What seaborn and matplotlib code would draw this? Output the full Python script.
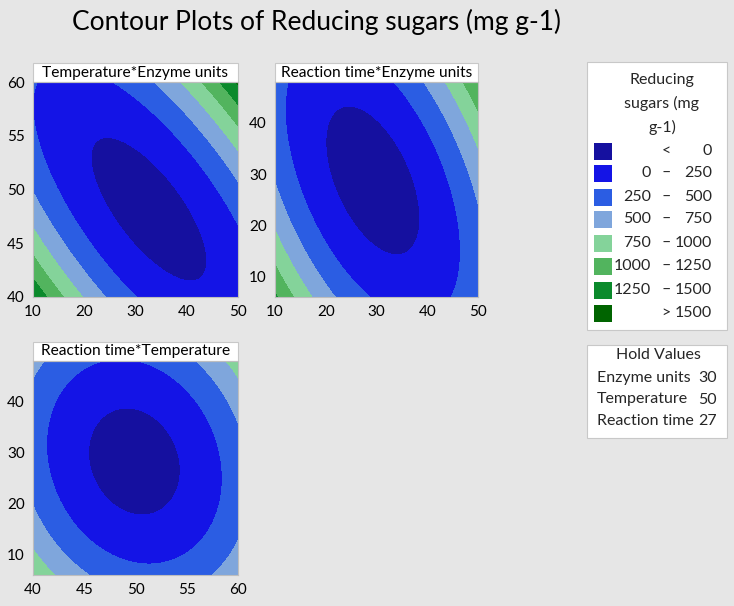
import numpy as np
import matplotlib
matplotlib.use("Agg")
import matplotlib.pyplot as plt
from matplotlib.patches import Rectangle
import seaborn as sns

# ---- chart data -------------------------------------------------------
TITLE = "Contour Plots of Reducing sugars (mg g-1)"

# response bands (legend)
LEVELS = [0, 250, 500, 750, 1000, 1250, 1500]
BAND_COLORS = ["#15109F", "#1414E6", "#2B5DE3", "#7FA6DC",
               "#84D39A", "#52B45E", "#0B8A2C", "#006400"]
BAND_LABELS = [("", "<", "0"), ("0", "\u2013", "250"), ("250", "\u2013", "500"),
               ("500", "\u2013", "750"), ("750", "\u2013", "1000"),
               ("1000", "\u2013", "1250"), ("1250", "\u2013", "1500"),
               ("", ">", "1500")]
LEGEND_TITLE = ["Reducing", "sugars (mg", "g-1)"]

# factors
ENZYME_RANGE = (10, 50)
TEMP_RANGE = (40, 60)
TIME_RANGE = (6, 48)
ENZYME_TICKS = [10, 20, 30, 40, 50]
TEMP_TICKS = [40, 45, 50, 55, 60]
TIME_TICKS = [10, 20, 30, 40]

HOLD_NAMES = ["Enzyme units", "Temperature", "Reaction time"]
HOLD_VALUES = [30, 50, 27]

# contour crossings: (x, y, level)
# panel 1: Temperature vs Enzyme units
p1_x = [20.1, 23.7, 41.0, 38.1, 23.1, 36.7, 31.5, 27.0, 40.2,
        29.5, 11.0, 11.5, 14.1, 19.2, 23.5, 29.0, 45.1, 50.0, 38.7,
        33.4, 50.0, 10.0, 23.5,
        38.1, 50.0, 10.0, 18.8,
        42.6, 50.0, 10.0, 14.9,
        45.5, 50.0, 10.0, 12.0,
        48.4, 50.0, 10.5]
p1_y = [53.5, 55.4, 45.8, 43.7, 50.1, 50.1, 53.2, 47.0, 47.0,
        60.0, 59.0, 55.0, 50.0, 46.9, 43.7, 40.0, 50.1, 46.0, 54.1,
        60.0, 51.1, 48.8, 40.0,
        60.0, 54.5, 46.2, 40.0,
        60.0, 56.9, 44.0, 40.0,
        60.0, 58.5, 42.6, 40.0,
        60.0, 59.4, 40.3]
p1_z = [0] * 9 + [250] * 10 + [500] * 4 + [750] * 4 + [1000] * 4 + [1250] * 4 + [1500] * 3

# panel 2: Reaction time vs Enzyme units
p2_x = [20.5, 24.8, 38.6, 34.6, 30.7, 35.3, 22.2, 28.7,
        14.5, 34.0, 12.0, 12.0, 14.9, 22.2, 28.7, 30.7, 45.1, 47.1, 45.8, 39.9,
        40.5, 50.0, 10.0, 20.2, 44.5,
        44.8, 50.0, 10.0, 16.2,
        47.4, 50.0, 10.0, 13.0,
        49.1, 50.0, 10.0, 10.7]
p2_y = [33.8, 39.3, 22.7, 16.9, 36.4, 29.2, 26.0, 18.8,
        48.0, 48.0, 39.0, 30.5, 21.4, 12.3, 7.1, 6.0, 6.0, 14.9, 26.0, 35.8,
        48.0, 22.8, 26.7, 6.0, 39.0,
        48.0, 35.8, 20.1, 6.0,
        48.0, 43.6, 14.2, 6.0,
        48.0, 46.8, 9.7, 6.0]
p2_z = [0] * 8 + [250] * 12 + [500] * 5 + [750] * 4 + [1000] * 4 + [1250] * 4

# panel 3: Reaction time vs Temperature
p3_x = [45.4, 48.9, 54.3, 50.9, 52.5, 46.3,
        48.3, 41.3, 51.2, 58.4, 43.7, 55.1, 57.1, 43.4,
        56.4, 60.0, 40.0, 45.4, 60.0, 57.7, 41.0, 40.0,
        58.7, 60.0, 40.0, 42.3]
p3_y = [30.2, 38.0, 26.9, 18.4, 36.1, 21.7,
        47.2, 30.9, 8.6, 26.3, 42.6, 43.9, 15.2, 16.5,
        48.0, 34.8, 19.7, 6.0, 12.5, 6.0, 48.0, 45.5,
        48.0, 44.3, 11.2, 6.0]
p3_z = [0] * 6 + [250] * 8 + [500] * 8 + [750] * 4

# ---- style ------------------------------------------------------------
BG = "#E6E6E6"
sns.set_theme(style="white", rc={"figure.facecolor": BG, "savefig.facecolor": BG,
                                  "axes.facecolor": BG})
plt.rcParams["font.family"] = ["Lato", "DejaVu Sans"]
W, H = 734, 606


def poly_terms(u, v):
    # full quadratic in coded units
    return np.stack([np.ones_like(u), u, v, u * u, v * v, u * v], axis=-1)


def fit_surface(u, v, z):
    coef, *_ = np.linalg.lstsq(poly_terms(u, v), z, rcond=None)
    return coef


def draw_panel(ax, xr, yr, px, py, pz, title, xticks, yticks):
    xc, xh = (xr[0] + xr[1]) / 2, (xr[1] - xr[0]) / 2
    yc, yh = (yr[0] + yr[1]) / 2, (yr[1] - yr[0]) / 2
    coef = fit_surface((np.array(px) - xc) / xh, (np.array(py) - yc) / yh,
                       np.array(pz, dtype=float))
    gx, gy = np.meshgrid(np.linspace(xr[0], xr[1], 300), np.linspace(yr[0], yr[1], 300))
    z = poly_terms((gx - xc) / xh, (gy - yc) / yh) @ coef
    ax.contourf(gx, gy, z, levels=[-1e7] + LEVELS + [1e7], colors=BAND_COLORS)
    ax.set_xlim(xr)
    ax.set_ylim(yr)
    ax.set_xticks(xticks)
    ax.set_yticks(yticks)
    ax.tick_params(axis="both", direction="out", length=4, width=0.8, color="#9A9A9A",
                   labelsize=11, pad=2, labelcolor="black")
    for sp in ax.spines.values():
        sp.set_color("#BEBEBE")
        sp.set_linewidth(0.8)
    ax.set_xlabel("")
    ax.set_ylabel("")
    # strip title
    bbox = ax.get_position()
    strip_h = 19 / (bbox.height * H)
    ax.add_patch(Rectangle((0, 1), 1, strip_h, transform=ax.transAxes, facecolor="white",
                           edgecolor="#C8C8C8", lw=0.8, clip_on=False))
    ax.text(0.5, 1 + strip_h / 2, title, transform=ax.transAxes, ha="center", va="center",
            fontsize=11.2, color="black")


fig = plt.figure(figsize=(W / 100, H / 100), dpi=100)


def px_axes(x0, y0, x1, y1):
    return fig.add_axes([x0 / W, 1 - y1 / H, (x1 - x0) / W, (y1 - y0) / H])


ax1 = px_axes(33, 82, 238, 297)
ax2 = px_axes(275, 82, 478, 297)
ax3 = px_axes(33, 361, 238, 575)

draw_panel(ax1, ENZYME_RANGE, TEMP_RANGE, p1_x, p1_y, p1_z,
           "Temperature*Enzyme units", ENZYME_TICKS, TEMP_TICKS)
draw_panel(ax2, ENZYME_RANGE, TIME_RANGE, p2_x, p2_y, p2_z,
           "Reaction time*Enzyme units", ENZYME_TICKS, TIME_TICKS)
draw_panel(ax3, TEMP_RANGE, TIME_RANGE, p3_x, p3_y, p3_z,
           "Reaction time*Temperature", TEMP_TICKS, TIME_TICKS)

# overlay in pixel coordinates for title, legend and hold values
ov = fig.add_axes([0, 0, 1, 1], zorder=10)
ov.set_xlim(0, W)
ov.set_ylim(H, 0)
ov.axis("off")
ov.patch.set_alpha(0)

ov.text(317, 22, TITLE, ha="center", va="center", fontsize=19, color="black")

ov.add_patch(Rectangle((587, 62), 140, 268, facecolor="white", edgecolor="#C8C8C8", lw=0.8))
for i, line in enumerate(LEGEND_TITLE):
    ov.text(662, 80 + i * 23.5, line, ha="center", va="center", fontsize=11.5)
row_y = [151, 173, 197, 219, 243, 266, 290, 313]
for y, col, (lo, sep, hi) in zip(row_y, BAND_COLORS, BAND_LABELS):
    ov.add_patch(Rectangle((594, y - 8.5), 18, 17, facecolor=col, edgecolor="none"))
    ov.text(651, y, lo, ha="right", va="center", fontsize=11.5)
    ov.text(666, y, sep, ha="center", va="center", fontsize=11.5)
    ov.text(712, y, hi, ha="right", va="center", fontsize=11.5)

ov.add_patch(Rectangle((587, 345), 140, 93, facecolor="white", edgecolor="#C8C8C8", lw=0.8))
ov.text(658, 355, "Hold Values", ha="center", va="center", fontsize=11.5)
for i, (name, val) in enumerate(zip(HOLD_NAMES, HOLD_VALUES)):
    ov.text(597, 378 + i * 21.5, name, ha="left", va="center", fontsize=11.5)
    ov.text(717, 378 + i * 21.5, str(val), ha="right", va="center", fontsize=11.5)

fig.savefig("out.png", dpi=100, facecolor=BG)
